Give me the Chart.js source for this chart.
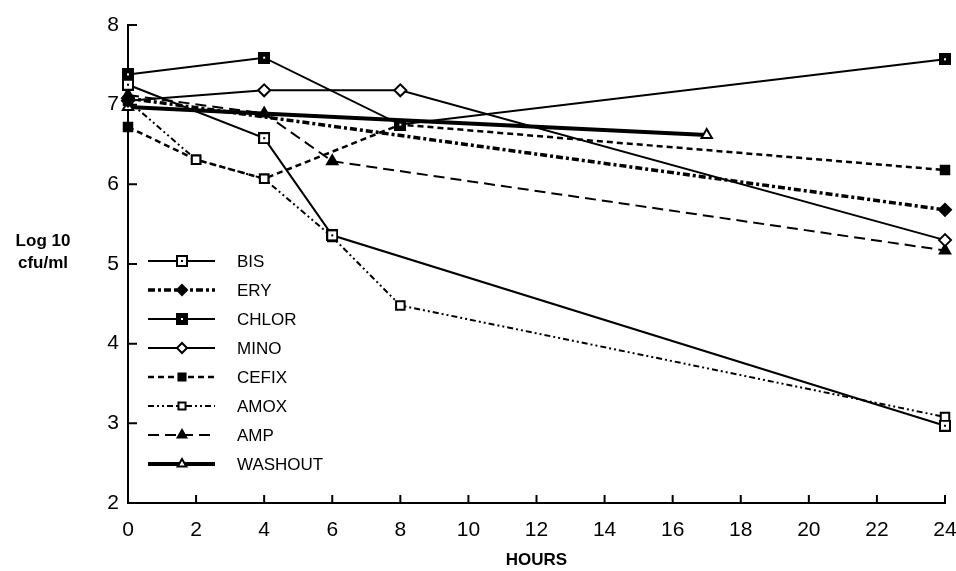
<!DOCTYPE html>
<html>
<head>
<meta charset="utf-8">
<script src="https://cdn.jsdelivr.net/npm/chart.js@4"></script>
<style>
  html, body { margin: 0; padding: 0; background: #fff; }
  #wrap { width: 956px; height: 571px; }
</style>
</head>
<body>
<div id="wrap"><canvas id="myChart" width="956" height="571"></canvas></div>
<script>
// Time-kill data, log10 cfu/ml vs hours
const seriesNames = ['BIS', 'ERY', 'CHLOR', 'MINO', 'CEFIX', 'AMOX', 'AMP', 'WASHOUT'];

const bisHours = [0, 4, 6, 24];
const bisLog = [7.25, 6.58, 5.36, 2.97];

const eryHours = [0, 24];
const eryLog = [7.08, 5.68];

const chlorHours = [0, 4, 8, 24];
const chlorLog = [7.38, 7.59, 6.75, 7.57];

const minoHours = [0, 4, 8, 24];
const minoLog = [7.05, 7.18, 7.18, 5.3];

const cefixHours = [0, 2, 4, 8, 24];
const cefixLog = [6.72, 6.31, 6.07, 6.75, 6.18];

const amoxHours = [0, 2, 4, 6, 8, 24];
const amoxLog = [7.05, 6.31, 6.07, 5.34, 4.48, 3.08];

const ampHours = [0, 4, 6, 24];
const ampLog = [7.12, 6.89, 6.29, 5.17];

const washoutHours = [0, 17];
const washoutLog = [6.97, 6.62];

const xTicks = [0, 2, 4, 6, 8, 10, 12, 14, 16, 18, 20, 22, 24];
const yTicks = [2, 3, 4, 5, 6, 7, 8];

function pts(hours, vals) {
    return hours.map((h, i) => ({ x: h, y: vals[i] }));
}

// square marker with a small dot in the middle
function dotSquare(filled) {
    const c = document.createElement('canvas');
    c.width = 12; c.height = 12;
    const g = c.getContext('2d');
    g.fillStyle = '#000';
    g.fillRect(0, 0, 12, 12);
    g.fillStyle = '#fff';
    if (!filled) {
        g.fillRect(2, 2, 8, 8);
        g.fillStyle = '#000';
    }
    g.fillRect(5, 5, 2, 2);
    return c;
}

const styles = [
    { hours: bisHours, vals: bisLog, width: 2, dash: [], point: dotSquare(false), fill: '#fff', order: 0 },
    { hours: eryHours, vals: eryLog, width: 3.5, dash: [7, 3, 3, 3], point: 'rectRot', fill: '#000', order: 0 },
    { hours: chlorHours, vals: chlorLog, width: 2, dash: [], point: dotSquare(true), fill: '#000', order: 0 },
    { hours: minoHours, vals: minoLog, width: 2, dash: [], point: 'rectRot', fill: '#fff', order: 0 },
    { hours: cefixHours, vals: cefixLog, width: 2.5, dash: [6, 4], point: 'rect', fill: '#000', order: 1 },
    { hours: amoxHours, vals: amoxLog, width: 2, dash: [6, 3, 2, 3, 2, 3], point: 'rect', fill: '#fff', order: 0 },
    { hours: ampHours, vals: ampLog, width: 2, dash: [11, 6], point: 'triangle', fill: '#000', order: 0 },
    { hours: washoutHours, vals: washoutLog, width: 4, dash: [], point: 'triangle', fill: '#fff', order: 0 }
];

const datasets = seriesNames.map((name, i) => {
    const s = styles[i];
    return {
        label: name,
        data: pts(s.hours, s.vals),
        order: s.order,
        clip: false,
        borderColor: '#000',
        borderWidth: s.width,
        borderDash: s.dash,
        pointStyle: s.point,
        pointRadius: 6,
        pointBackgroundColor: s.fill,
        pointBorderColor: '#000',
        pointBorderWidth: 2,
        tension: 0,
        fill: false
    };
});

// legend drawn inside the plot + inward ticks + y title
const extras = {
    id: 'extras',
    afterDraw(chart) {
        const ctx = chart.ctx;
        const xs = chart.scales.x, ys = chart.scales.y;
        ctx.save();
        ctx.strokeStyle = '#000';
        ctx.lineWidth = 2;
        ctx.setLineDash([]);
        ctx.beginPath();
        yTicks.forEach(v => {
            const py = ys.getPixelForValue(v);
            ctx.moveTo(xs.left, py);
            ctx.lineTo(xs.left + 9, py);
        });
        xTicks.forEach(v => {
            if (v === 0) return;
            const px = xs.getPixelForValue(v);
            ctx.moveTo(px, ys.bottom);
            ctx.lineTo(px, ys.bottom - 8);
        });
        ctx.stroke();

        // y axis title
        ctx.fillStyle = '#000';
        ctx.font = 'bold 17px "Liberation Sans", Arial, sans-serif';
        ctx.textAlign = 'center';
        ctx.textBaseline = 'middle';
        ctx.fillText('Log 10', 43, 241);
        ctx.fillText('cfu/ml', 43, 263);

        // legend
        ctx.font = '17px "Liberation Sans", Arial, sans-serif';
        ctx.textAlign = 'left';
        chart.data.datasets.forEach((ds, i) => {
            const y = 261 + i * 29;
            ctx.lineWidth = ds.borderWidth;
            ctx.setLineDash(ds.borderDash);
            ctx.beginPath();
            ctx.moveTo(148, y);
            ctx.lineTo(215, y);
            ctx.stroke();
            ctx.setLineDash([]);
            ctx.lineWidth = 2;
            ctx.fillStyle = ds.pointBackgroundColor;
            Chart.helpers.drawPoint(ctx, {
                pointStyle: ds.pointStyle,
                radius: 5,
                borderWidth: 2,
                rotation: 0
            }, 182, y);
            ctx.fillStyle = '#000';
            ctx.fillText(ds.label, 237, y + 1);
        });
        ctx.restore();
    }
};

const ctx = document.getElementById('myChart').getContext('2d');
const myChart = new Chart(ctx, {
    type: 'line',
    data: { datasets: datasets },
    options: {
        responsive: false,
        animation: false,
        layout: { padding: { top: 25, right: 11, left: 0, bottom: 0 } },
        plugins: {
            legend: { display: false },
            tooltip: { enabled: false }
        },
        scales: {
            x: {
                type: 'linear',
                min: 0,
                max: 24,
                afterBuildTicks: scale => { scale.ticks = xTicks.map(v => ({ value: v })); },
                afterFit: scale => { scale.height = 68; scale.paddingRight = 0; scale.paddingLeft = 0; },
                grid: { drawOnChartArea: false, drawTicks: false },
                border: { color: '#000', width: 2 },
                ticks: {
                    color: '#000',
                    padding: 15,
                    maxRotation: 0,
                    font: { family: '"Liberation Sans", Arial, sans-serif', size: 21 }
                },
                title: {
                    display: true,
                    text: 'HOURS',
                    color: '#000',
                    padding: { top: 0, bottom: 0 },
                    font: { family: '"Liberation Sans", Arial, sans-serif', size: 17, weight: 'bold' }
                }
            },
            y: {
                min: 2,
                max: 8,
                afterBuildTicks: scale => { scale.ticks = yTicks.map(v => ({ value: v })); },
                afterFit: scale => { scale.width = 128; scale.paddingTop = 0; scale.paddingBottom = 0; },
                grid: { drawOnChartArea: false, drawTicks: false },
                border: { color: '#000', width: 2 },
                ticks: {
                    color: '#000',
                    padding: 9,
                    font: { family: '"Liberation Sans", Arial, sans-serif', size: 21 }
                }
            }
        }
    },
    plugins: [extras]
});
</script>
</body>
</html>
